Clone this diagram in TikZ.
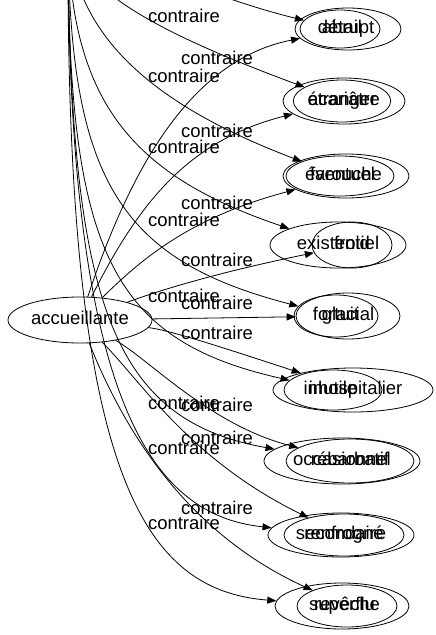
\documentclass[tikz,border=0pt]{standalone}
\usepackage{fontspec}
\setmainfont{Liberation Sans}
\usetikzlibrary{arrows.meta,shapes.geometric}
\begin{document}
\begin{tikzpicture}[x=1pt,y=-1pt,
  lbl/.style={font=\fontsize{18.5}{20}\selectfont, inner sep=0pt, text height=13pt, text depth=4pt},
  word/.style={ellipse, draw, line width=0.8pt, inner sep=0pt, text height=13pt, text depth=4pt, font=\fontsize{18.5}{20}\selectfont},
  conn/.style={line width=0.8pt, -{Triangle[length=9pt,width=7pt]}},
]
\useasboundingbox (0,0) rectangle (436,635);
\begin{scope}
\clip (0,0) rectangle (436,635);
% source nodes
\node[word, minimum width=144pt, minimum height=46pt] (acc) at (80,320) {accueillante};
\coordinate (bsrc) at (68,-60);
% graph A targets
\node[word, minimum width=106pt, minimum height=42pt] (n1a) at (348,29) {abrupt};
\node[word, minimum width=122pt, minimum height=46pt] (n2a) at (344,101) {acariâtre};
\node[word, minimum width=126pt, minimum height=44pt] (n3a) at (346,176) {farouche};
\node[word, minimum width=80pt, minimum height=46pt] (n4a) at (352,245) {froid};
\node[word, minimum width=104pt, minimum height=46pt] (n5a) at (348,316) {glacial};
\node[word, minimum width=160pt, minimum height=44pt] (n6a) at (353,390) {inhospitalier};
\node[word, minimum width=128pt, minimum height=44pt] (n7a) at (350,461) {rébarbatif};
\node[word, minimum width=120pt, minimum height=42pt] (n8a) at (344,535) {renfrogné};
\node[word, minimum width=100pt, minimum height=42pt] (n9a) at (347,606) {revêche};
% graph B targets
\node[word, minimum width=80pt, minimum height=38pt] (n1b) at (340,29) {détail};
\node[word, minimum width=96pt, minimum height=42pt] (n2b) at (342,101) {étranger};
\node[word, minimum width=108pt, minimum height=40pt] (n3b) at (340,176) {éventuel};
\node[word, minimum width=136pt, minimum height=46pt] (n4b) at (338,245) {existentiel};
\node[word, minimum width=84pt, minimum height=42pt] (n5b) at (336,316) {fortuit};
\node[word, minimum width=98pt, minimum height=40pt] (n6b) at (333,390) {inutile};
\node[word, minimum width=156pt, minimum height=46pt] (n7b) at (342,461) {occasionnel};
\node[word, minimum width=146pt, minimum height=44pt] (n8b) at (341,535) {secondaire};
\node[word, minimum width=134pt, minimum height=46pt] (n9b) at (342,606) {superflu};
% graph A labels
\node[lbl] (la1) at (217,60) {contraire};
\node[lbl] (la2) at (217,133) {contraire};
\node[lbl] (la3) at (217,205) {contraire};
\node[lbl] (la4) at (217,262) {contraire};
\node[lbl] (la5) at (217,305) {contraire};
\node[lbl] (la6) at (217,335) {contraire};
\node[lbl] (la7) at (217,407) {contraire};
\node[lbl] (la8) at (217,440) {contraire};
\node[lbl] (la9) at (217,510) {contraire};
% graph B labels
\node[lbl] (lb2) at (184,18) {contraire};
\node[lbl] (lb3) at (184,78) {contraire};
\node[lbl] (lb4) at (184,149) {contraire};
\node[lbl] (lb5) at (184,222) {contraire};
\node[lbl] (lb6) at (184,298) {contraire};
\node[lbl] (lb7) at (184,405) {contraire};
\node[lbl] (lb8) at (184,450) {contraire};
\node[lbl] (lb9) at (184,525) {contraire};
% graph A edges
\draw[conn] (acc) .. controls (130,170) and (190,60) .. (n1a);
\draw[conn] (acc) .. controls (140,200) and (190,140) .. (n2a);
\draw[conn] (acc) .. controls (150,250) and (200,215) .. (n3a);
\draw[conn] (acc) .. controls (160,290) and (220,272) .. (n4a);
\draw[conn] (acc) -- (n5a);
\draw[conn] (acc) .. controls (170,330) and (230,350) .. (n6a);
\draw[conn] (acc) .. controls (150,360) and (210,425) .. (n7a);
\draw[conn] (acc) .. controls (140,380) and (190,460) .. (n8a);
\draw[conn] (acc) .. controls (120,420) and (180,530) .. (n9a);
% graph B edges
\draw[conn] (bsrc) .. controls (130,-40) and (220,0) .. (n1b);
\draw[conn] (bsrc) .. controls (85,-10) and (150,30) .. (n2b);
\draw[conn] (bsrc) .. controls (78,30) and (140,100) .. (n3b);
\draw[conn] (bsrc) .. controls (72,100) and (130,175) .. (n4b);
\draw[conn] (bsrc) .. controls (70,180) and (120,260) .. (n5b);
\draw[conn] (bsrc) .. controls (68,250) and (110,340) .. (n6b);
\draw[conn] (bsrc) .. controls (70,300) and (110,420) .. (n7b);
\draw[conn] (bsrc) .. controls (68,400) and (150,515) .. (n8b);
\draw[conn] (bsrc) .. controls (66,470) and (140,590) .. (n9b);
\end{scope}
\end{tikzpicture}
\end{document}
